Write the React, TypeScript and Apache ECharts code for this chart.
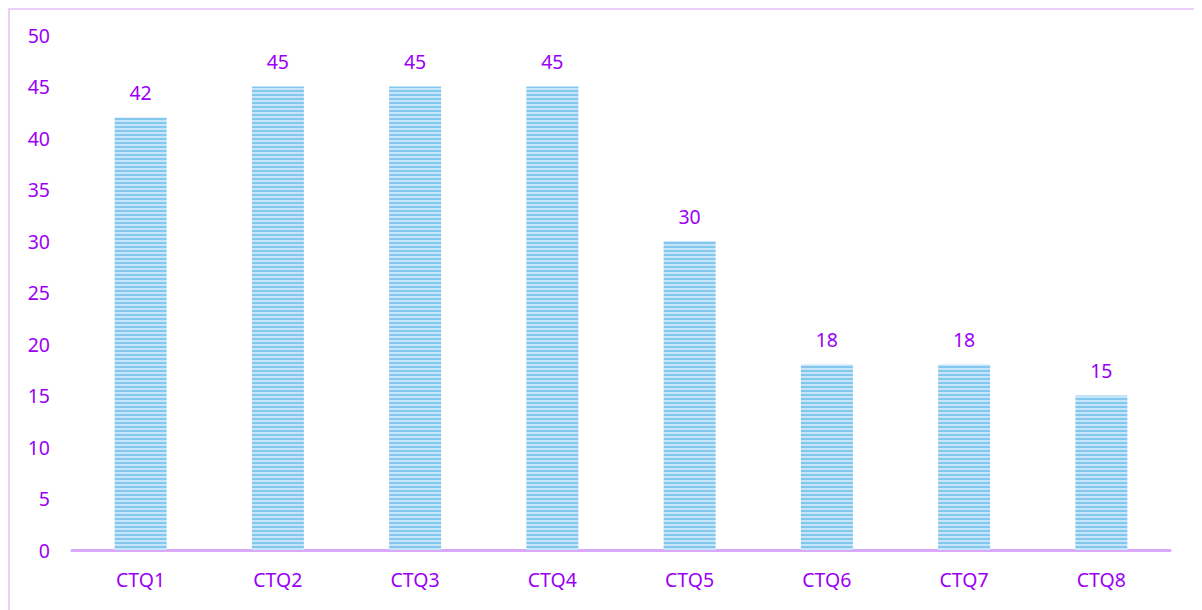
import React, { useEffect, useRef } from "react";
import * as echarts from "echarts";

const categories = ["CTQ1", "CTQ2", "CTQ3", "CTQ4", "CTQ5", "CTQ6", "CTQ7", "CTQ8"];
const values = [42, 45, 45, 45, 30, 18, 18, 15];
const yTicks = { min: 0, max: 50, interval: 5 };

function makePattern(): HTMLCanvasElement {
  const c = document.createElement("canvas");
  c.width = 8;
  c.height = 4;
  const ctx = c.getContext("2d")!;
  ctx.fillStyle = "#c6e5f9";
  ctx.fillRect(0, 0, 8, 4);
  ctx.fillStyle = "#84c7ee";
  ctx.fillRect(0, 0, 8, 2);
  return c;
}

export default function App() {
  const ref = useRef<HTMLDivElement>(null);
  useEffect(() => {
    if (!ref.current) return;
    const chart = echarts.init(ref.current, undefined, { renderer: "svg" });
    const purple = "#9b00f5";
    const font = "'Noto Sans', 'Open Sans', sans-serif";
    chart.setOption({
      animation: false,
      backgroundColor: "#ffffff",
      grid: { left: 62, top: 25, width: 1098, height: 515 },
      xAxis: {
        type: "category",
        data: categories,
        axisLine: { lineStyle: { color: "#daa8fa", width: 3 } },
        axisTick: { show: false },
        axisLabel: { color: purple, fontSize: 19.5, fontFamily: font, margin: 19 },
      },
      yAxis: {
        type: "value",
        min: yTicks.min,
        max: yTicks.max,
        interval: yTicks.interval,
        splitLine: { show: false },
        axisLine: { show: false },
        axisTick: { show: false },
        axisLabel: { color: purple, fontSize: 19.5, fontFamily: font, margin: 22 },
      },
      series: [
        {
          type: "bar",
          data: values,
          barWidth: 52,
          itemStyle: { color: { image: makePattern(), repeat: "repeat" } as any },
          label: {
            show: true,
            position: "top",
            distance: 15,
            color: purple,
            fontSize: 19.5,
            fontFamily: font,
          },
        },
      ],
    });
    return () => chart.dispose();
  }, []);
  return (
    <div
      style={{
        width: 1192,
        height: 620,
        border: "2px solid #ebcefb",
        boxSizing: "border-box",
        background: "#fff",
      }}
    >
      <div ref={ref} style={{ width: 1188, height: 616 }} />
    </div>
  );
}
